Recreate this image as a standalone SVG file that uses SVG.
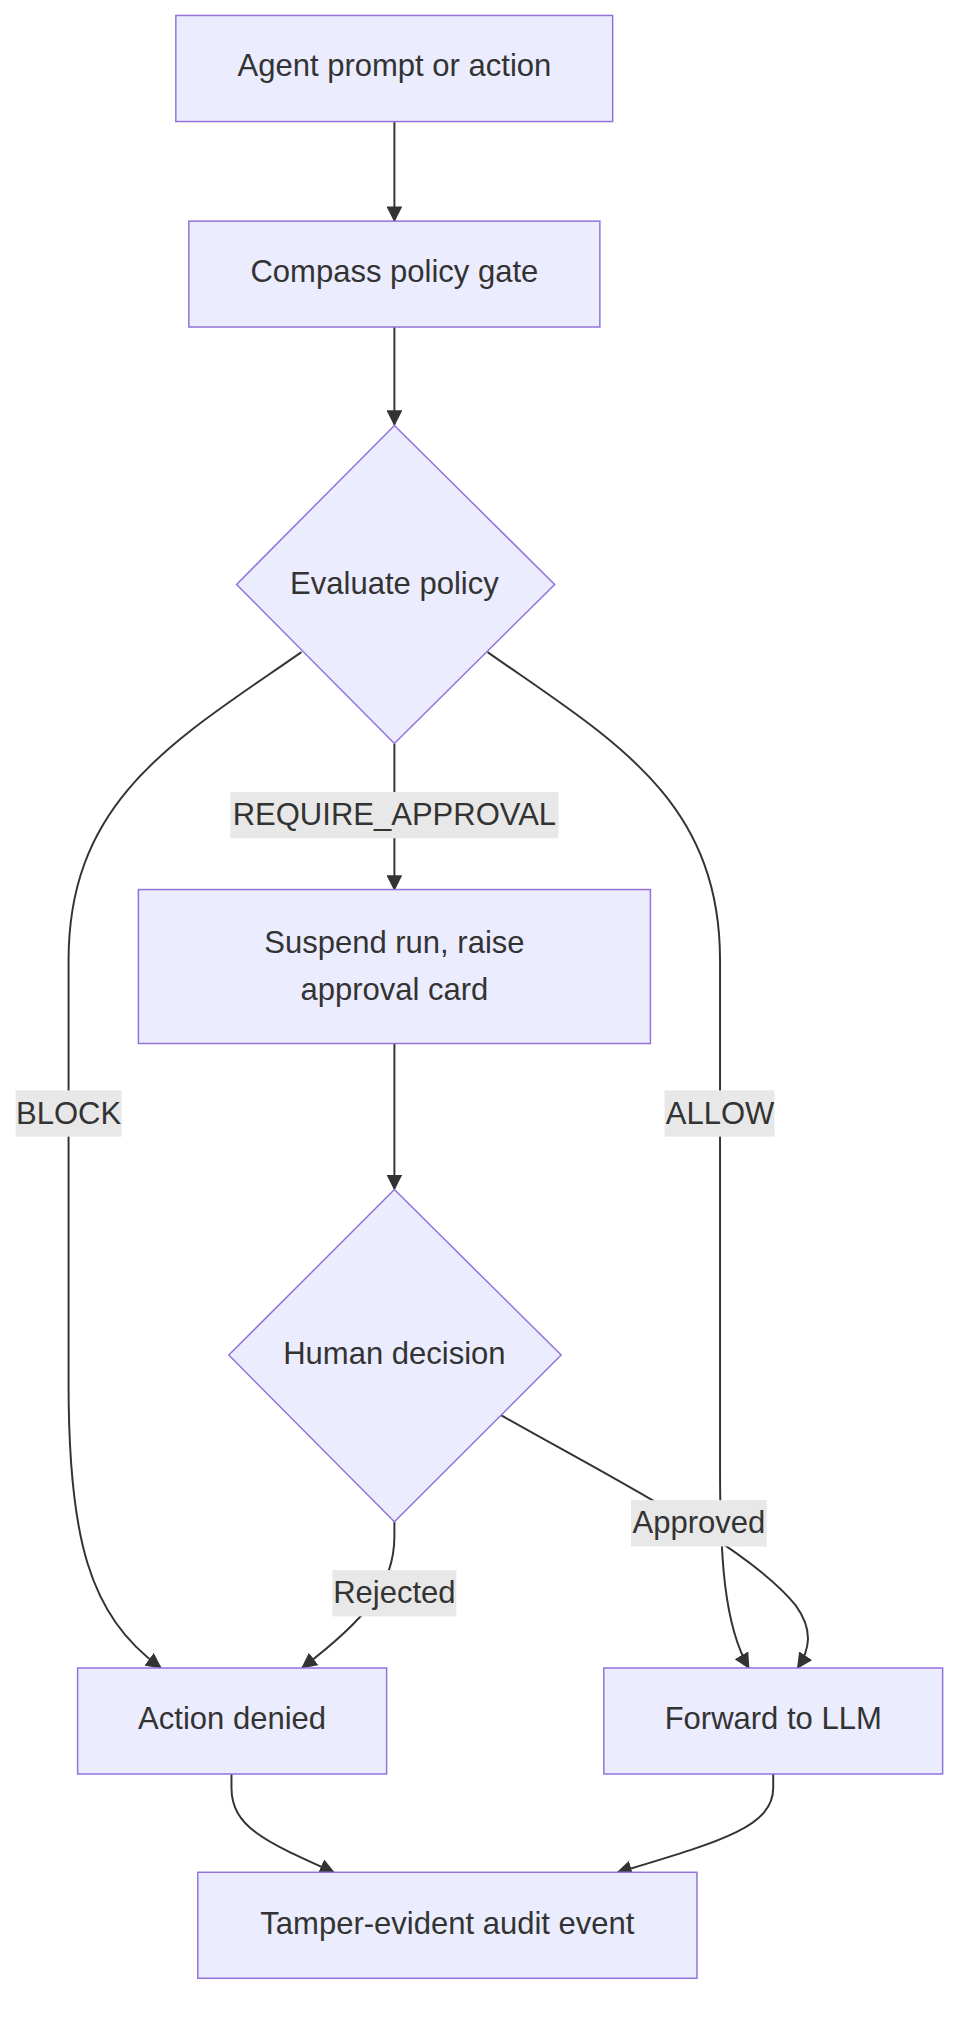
<svg xmlns="http://www.w3.org/2000/svg" width="974" height="2026" viewBox="0 0 974 2026">
<style>
.n{fill:#ECECFF;stroke:#9370DB;stroke-width:1.5}
.t{font-family:"Liberation Sans",Arial,sans-serif;font-size:31.5px;fill:#333;text-anchor:middle;dominant-baseline:central}
.e{fill:none;stroke:#333;stroke-width:2;marker-end:url(#a)}
.lb{fill:#e8e8e8}
</style>
<defs><marker id="a" viewBox="0 0 10 10" refX="9" refY="5" markerWidth="8" markerHeight="8" orient="auto-start-reverse"><path d="M0,0L10,5L0,10z" fill="#333"/></marker></defs>
<rect width="974" height="2026" fill="#fff"/>
<g transform="scale(0.985)">
<g id="connectors">
<path class="e" d="M400.4,123.4V224"/>
<path class="e" d="M400.4,332V431"/>
<path class="e" d="M400.4,755V903"/>
<path class="e" d="M306,662C180,750 69.6,810 69.6,975L69.6,1405C69.6,1560 90,1640 163,1693"/>
<path class="e" d="M495,662C620,750 731,810 731,975L731,1490C731,1580 735,1650 760,1693"/>
<path class="e" d="M400.4,1059.4V1207"/>
<path class="e" d="M400.4,1545L400.4,1560C400.4,1610 370,1645 307,1693"/>
<path class="e" d="M509,1437C620,1500 760,1570 808,1630C826,1655 822,1675 810,1693"/>
<path class="e" d="M235,1801L235,1815C235,1855 270,1870 339,1901"/>
<path class="e" d="M785,1801L785,1815C785,1855 730,1870 627,1901"/>
</g>
<g id="labels">
<rect class="lb" x="233.7" y="804" width="333.3" height="47"/><text class="t" x="400.4" y="827">REQUIRE_APPROVAL</text>
<rect class="lb" x="15.8" y="1107" width="107.6" height="47"/><text class="t" x="69.6" y="1130">BLOCK</text>
<rect class="lb" x="674.7" y="1107" width="111.6" height="47"/><text class="t" x="731" y="1130">ALLOW</text>
<rect class="lb" x="640.6" y="1523" width="137.8" height="47"/><text class="t" x="709.5" y="1546">Approved</text>
<rect class="lb" x="337.4" y="1594" width="126" height="47"/><text class="t" x="400.4" y="1617">Rejected</text>
</g>
<g id="A"><rect class="n" x="178.5" y="15.7" width="443.5" height="107.7"/><text class="t" x="400.4" y="67">Agent prompt or action</text></g>
<g id="B"><rect class="n" x="191.7" y="224.5" width="417.3" height="107.5"/><text class="t" x="400.4" y="276">Compass policy gate</text></g>
<g id="C"><path class="n" d="M400.4,431.9L563.1,593.3L400.4,754.8L240.2,593.3Z"/><text class="t" x="400.4" y="592">Evaluate policy</text></g>
<g id="D"><rect class="n" x="140.5" y="903.1" width="519.8" height="156.3"/><text class="t" x="400.4" y="957">Suspend run, raise</text><text class="t" x="400.4" y="1005">approval card</text></g>
<g id="E"><path class="n" d="M400.4,1207.7L569.7,1375.7L400.4,1545L232.3,1375.7Z"/><text class="t" x="400.4" y="1374">Human decision</text></g>
<g id="F"><rect class="n" x="78.8" y="1693.4" width="313.7" height="107.6"/><text class="t" x="235.6" y="1745">Action denied</text></g>
<g id="G"><rect class="n" x="613" y="1693.4" width="344" height="107.6"/><text class="t" x="785" y="1745">Forward to LLM</text></g>
<g id="H"><rect class="n" x="200.8" y="1900.8" width="506.8" height="107.6"/><text class="t" x="454.2" y="1953">Tamper-evident audit event</text></g>
</g>
</svg>
